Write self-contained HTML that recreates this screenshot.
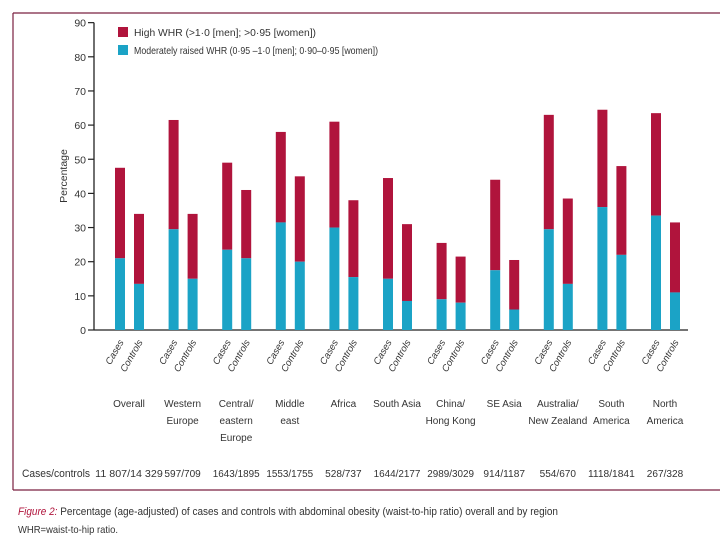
<!DOCTYPE html>
<html><head><meta charset="utf-8"><style>
body{margin:0;background:#fff;width:720px;height:540px;overflow:hidden;font-family:"Liberation Sans",sans-serif;}
svg text{font-family:"Liberation Sans",sans-serif;fill:#333;}
</style></head><body>
<svg width="720" height="540">
<g id="frame">
<line x1="13" y1="13" x2="720" y2="13" stroke="#7a2040" stroke-width="1.2"/>
<line x1="13" y1="13" x2="13" y2="490" stroke="#7a2040" stroke-width="1.2"/>
<line x1="13" y1="490" x2="720" y2="490" stroke="#7a2040" stroke-width="1.2"/>
</g>
<g id="axes"></g>
<g id="bars"></g>
<g id="labels"></g>
<g>
<rect x="118" y="27" width="10" height="10" fill="#b0143c"/>
<text x="134" y="36" font-size="10.5" textLength="182" lengthAdjust="spacingAndGlyphs">High WHR (&gt;1·0 [men]; &gt;0·95 [women])</text>
<rect x="118" y="45" width="10" height="10" fill="#1ba3c6"/>
<text x="134" y="54" font-size="10.5" textLength="244" lengthAdjust="spacingAndGlyphs">Moderately raised WHR (0·95 –1·0 [men]; 0·90–0·95 [women])</text>
</g>
<text transform="translate(67,176) rotate(-90)" text-anchor="middle" font-size="10.5">Percentage</text>
<text x="22" y="477" font-size="11" textLength="68" lengthAdjust="spacingAndGlyphs">Cases/controls</text>
<text x="18" y="515" font-size="11" textLength="540" lengthAdjust="spacingAndGlyphs"><tspan fill="#b0143c" font-style="italic">Figure 2:</tspan> Percentage (age-adjusted) of cases and controls with abdominal obesity (waist-to-hip ratio) overall and by region</text>
<text x="18" y="533" font-size="10.5" textLength="100" lengthAdjust="spacingAndGlyphs">WHR=waist-to-hip ratio.</text>
</svg>
<script>
const regions=[["Overall"],["Western","Europe"],["Central/","eastern","Europe"],["Middle","east"],["Africa"],["South Asia"],["China/","Hong Kong"],["SE Asia"],["Australia/","New Zealand"],["South","America"],["North","America"]];
const casesTotal=[47.5,61.5,49,58,61,44.5,25.5,44,63,64.5,63.5];
const casesModerate=[21,29.5,23.5,31.5,30,15,9,17.5,29.5,36,33.5];
const controlsTotal=[34,34,41,45,38,31,21.5,20.5,38.5,48,31.5];
const controlsModerate=[13.5,15,21,20,15.5,8.5,8,6,13.5,22,11];
const counts=["11 807/14 329","597/709","1643/1895","1553/1755","528/737","1644/2177","2989/3029","914/1187","554/670","1118/1841","267/328"];
const yTicks=[0,10,20,30,40,50,60,70,80,90];
const NS="http://www.w3.org/2000/svg";
const y0=330,pxPer=34.15,xAxisL=94,xAxisR=688;
function y(v){return y0-v*pxPer/10;}
function gx(i){return 120+i*53.6;}
function mk(tag,attrs,parent){const e=document.createElementNS(NS,tag);for(const k in attrs)e.setAttribute(k,attrs[k]);parent.appendChild(e);return e;}
const axes=document.getElementById('axes'),bars=document.getElementById('bars'),labels=document.getElementById('labels');
let a=mk('line',{x1:xAxisL,y1:y(0),x2:xAxisL,y2:y(90),stroke:'#222','stroke-width':1.3},axes);


a=mk('line',{x1:xAxisL,y1:y(0),x2:xAxisR,y2:y(0),stroke:'#222','stroke-width':1.3},axes);


yTicks.forEach(t=>{
 let l=mk('line',{x1:xAxisL-6,y1:y(t),x2:xAxisL,y2:y(t),stroke:'#222','stroke-width':1.2},axes);
 
 
 let tx=mk('text',{x:xAxisL-8,y:y(t)+4,'text-anchor':'end','font-size':10.5},axes);
 tx.textContent=t;
 
 
});
function bar(x,total,mod,kind,i){
 let r=mk('rect',{x:x-5,y:y(total),width:10,height:y(mod)-y(total),fill:'#b0143c'},bars);
 
 
 r=mk('rect',{x:x-5,y:y(mod),width:10,height:y(0)-y(mod),fill:'#1ba3c6'},bars);
 
 
}
regions.forEach((reg,i)=>{
 const cx=gx(i),kx=cx+19;
 bar(cx,casesTotal[i],casesModerate[i],'cases',i);
 bar(kx,controlsTotal[i],controlsModerate[i],'controls',i);
 [[cx,'Cases'],[kx,'Controls']].forEach(([x,s])=>{
  let t=mk('text',{transform:`translate(${x+4},${y0+12}) rotate(-60)`,'text-anchor':'end','font-size':9.5,'font-style':'italic'},labels);
  t.textContent=s;
  
  
 });
 reg.forEach((line,j)=>{
  let t=mk('text',{x:cx+9,y:407+j*17,'text-anchor':'middle','font-size':10},labels);
  t.textContent=line;
  
  
 });
 let c=mk('text',{x:cx+9,y:477,'text-anchor':'middle','font-size':10,textLength:counts[i].length*5.2,lengthAdjust:'spacingAndGlyphs'},labels);
 c.textContent=counts[i];
 
 
});
</script>
</body></html>
